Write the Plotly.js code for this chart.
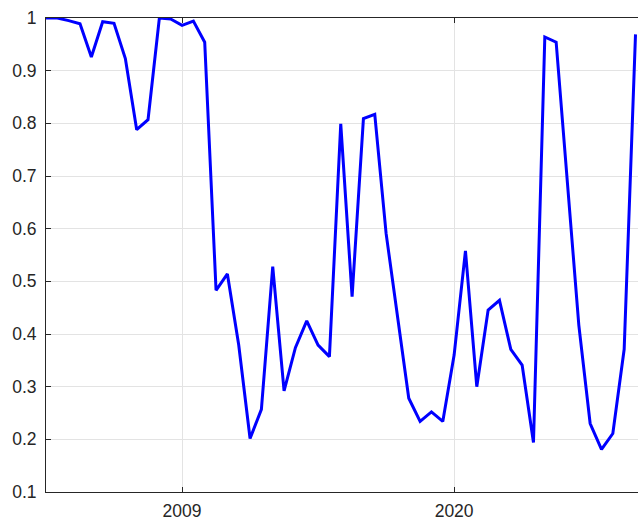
<!DOCTYPE html>
<html>
<head>
<meta charset="utf-8">
<script src="https://cdn.plot.ly/plotly-3.0.1.min.js"></script>
<style>html,body{margin:0;padding:0;background:#fff;}#chart{width:638px;height:520px;}</style>
</head>
<body>
<div id="chart"></div>
<script>
var values = [1.0, 1.0, 0.995, 0.989, 0.926, 0.993, 0.990, 0.923, 0.788, 0.807,
  1.0, 0.998, 0.986, 0.994, 0.954, 0.483, 0.514, 0.379, 0.2015, 0.257,
  0.528, 0.292, 0.374, 0.425, 0.379, 0.357, 0.799, 0.471, 0.809, 0.817,
  0.591, 0.434, 0.278, 0.234, 0.252, 0.234, 0.360, 0.558, 0.300, 0.4455,
  0.464, 0.371, 0.341, 0.194, 0.964, 0.954, 0.690, 0.417, 0.230, 0.181,
  0.211, 0.371, 0.969];
var xIndex = values.map(function(_, i){ return i; });
var tickPositions = [12, 36];
var tickLabels = ['2009', '2020'];
var yTicks = [0.1,0.2,0.3,0.4,0.5,0.6,0.7,0.8,0.9,1];
var yTickLabels = ['0.1','0.2','0.3','0.4','0.5','0.6','0.7','0.8','0.9','1'];

var trace = {
  x: xIndex, y: values, type: 'scatter', mode: 'lines',
  line: {color: '#0000ff', width: 3},
  hoverinfo: 'none'
};
var axisFont = {family: 'Liberation Sans, Arial, sans-serif', size: 17.5, color: '#262626'};
var layout = {
  width: 638, height: 520,
  margin: {l: 46.3, r: 0, t: 18.3, b: 28.3, pad: 0},
  paper_bgcolor: '#fff', plot_bgcolor: '#fff',
  showlegend: false,
  xaxis: {
    range: [0, 52.22], tickmode: 'array', tickvals: tickPositions, ticktext: tickLabels,
    showgrid: true, gridcolor: '#e3e3e3', gridwidth: 1,
    showline: true, linecolor: '#262626', linewidth: 1, mirror: 'ticks',
    ticks: 'inside', ticklen: 5, tickcolor: '#262626', tickfont: axisFont,
    zeroline: false, fixedrange: true, ticklabelstandoff: 3
  },
  yaxis: {
    range: [0.1, 1], tickmode: 'array', tickvals: yTicks, ticktext: yTickLabels,
    showgrid: true, gridcolor: '#e3e3e3', gridwidth: 1,
    showline: true, linecolor: '#262626', linewidth: 1, mirror: false,
    ticks: 'inside', ticklen: 5, tickcolor: '#262626', tickfont: axisFont,
    zeroline: false, fixedrange: true, ticklabelstandoff: 5
  }
};
Plotly.newPlot('chart', [trace], layout, {staticPlot: true, displayModeBar: false});
</script>
</body>
</html>
